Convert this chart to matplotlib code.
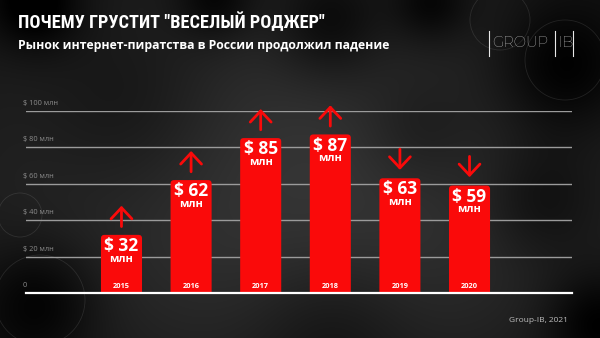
import numpy as np
import matplotlib.pyplot as plt
from matplotlib.patches import FancyBboxPatch, Circle
from matplotlib.transforms import offset_copy, blended_transform_factory

years = ['2015', '2016', '2017', '2018', '2019', '2020']
values = [32, 62, 85, 87, 63, 59]
trend = ['up', 'up', 'up', 'up', 'down', 'down']
grid_values = [20, 40, 60, 80, 100]
grid_labels = ['$ 20 млн', '$ 40 млн', '$ 60 млн', '$ 80 млн', '$ 100 млн']

title = 'ПОЧЕМУ ГРУСТИТ "ВЕСЕЛЫЙ РОДЖЕР"'
subtitle = 'Рынок интернет-пиратства в России продолжил падение'
source = 'Group-IB, 2021'

RED = '#fa0a0a'
FONT = 'Open Sans'
W, H = 600, 338

fig = plt.figure(figsize=(6, 3.38), dpi=100)

# dark backdrop with soft black blobs
bg = fig.add_axes([0, 0, 1, 1])
yy, xx = np.mgrid[0:H, 0:W]
img = np.full((H, W), 0.16)
img += 0.05 * np.exp(-(((xx - 330) / 260) ** 2 + ((yy - 200) / 160) ** 2))
for cx, cy, r, d in [(35, 5, 45, 0.12), (215, 0, 40, 0.10), (330, 25, 55, 0.10),
                     (430, 5, 40, 0.10), (560, 70, 70, 0.12), (540, 200, 60, 0.08),
                     (40, 300, 60, 0.10), (130, 110, 90, 0.06), (420, 130, 60, 0.06),
                     (330, 330, 80, 0.06), (595, 320, 50, 0.10)]:
    img -= d * np.exp(-(((xx - cx) / r) ** 2 + ((yy - cy) / r) ** 2))
vign = np.hypot((xx - 300) / 360, (yy - 169) / 230)
img -= 0.06 * vign ** 2
img = np.clip(img, 0, 1)
bg.imshow(np.dstack([img, img, img]), extent=(0, W, H, 0), aspect='auto')
for cx, cy, r in [(20, 215, 22), (40, 300, 45), (565, 60, 40), (500, 20, 30)]:
    bg.add_patch(Circle((cx, cy), r, fill=False, ec='#ffffff', lw=0.6, alpha=0.10))
bg.set_xlim(0, W)
bg.set_ylim(H, 0)
bg.axis('off')

# chart area
ax = fig.add_axes([25.7 / W, 1 - 293.3 / H, 546 / W, 182.6 / H])
ax.set_xlim(-1.376, 6.468)
ax.set_ylim(0, 100)
ax.axis('off')

ylab_tr = blended_transform_factory(ax.transAxes, ax.transData)
for v, lab in zip(grid_values, grid_labels):
    ax.axhline(v, color='#9b9b9b', lw=1.0, zorder=1)
    ax.annotate(lab, (0, v), xycoords=ylab_tr, xytext=(-2, 3), textcoords='offset points',
                ha='left', va='bottom', color='#8c8c8c', fontsize=5.3, family=FONT)
ax.annotate('0', (0, 0), xycoords=ylab_tr, xytext=(-2, 3), textcoords='offset points',
            ha='left', va='bottom', color='#8c8c8c', fontsize=5.3, family=FONT)
ax.axhline(0, color='white', lw=1.6, zorder=4, clip_on=False)

# bars with rounded tops (bottoms dip below 0 and get clipped)
fig.canvas.draw()
p0 = ax.transData.transform((0, 0))
p1 = ax.transData.transform((1, 1))
aspect = (p1[0] - p0[0]) / (p1[1] - p0[1])
bw = 0.59
for i, (yr, v, t) in enumerate(zip(years, values, trend)):
    bar = FancyBboxPatch((i - bw / 2, -5), bw, v + 5,
                         boxstyle='round,pad=0,rounding_size=0.05',
                         mutation_aspect=aspect, fc=RED, ec='none', zorder=3)
    ax.add_patch(bar)
    ax.annotate(f'$ {v}', (i, v), xytext=(0, -8), textcoords='offset points',
                ha='center', va='center', color='white', fontsize=12.5,
                fontweight='bold', family=FONT, zorder=5)
    ax.annotate('млн', (i, v), xytext=(0, -17.5), textcoords='offset points',
                ha='center', va='center', color='white', fontsize=8,
                fontweight='bold', family=FONT, zorder=5)
    ax.annotate(yr, (i, 0), xytext=(0, 4.8), textcoords='offset points',
                ha='center', va='center', color='white', fontsize=5.3,
                fontweight='bold', family=FONT, zorder=5)
    # trend arrow above each bar
    if t == 'up':
        tip = offset_copy(ax.transData, fig=fig, x=0, y=21, units='points')
        start = (0, -15)
    else:
        tip = offset_copy(ax.transData, fig=fig, x=0, y=6, units='points')
        start = (0, 15)
    ax.annotate('', (i, v), xycoords=tip, xytext=start, textcoords='offset points',
                arrowprops=dict(arrowstyle='->,head_length=8,head_width=7.5',
                                mutation_scale=1, color=RED, lw=2.0,
                                shrinkA=0, shrinkB=0))

# headings
fig.text(18 / W, 1 - 22 / H, title, color='white', fontsize=13.2, fontweight='bold',
         family='Roboto Condensed', ha='left', va='center')
fig.text(18 / W, 1 - 45.5 / H, subtitle, color='white', fontsize=8.8, fontweight='bold',
         family=FONT, ha='left', va='center')

# logo
fig.text(492 / W, 1 - 43 / H, 'GROUP', color='#e8e8e8', fontsize=10.5, fontweight='light',
         family='Montserrat', ha='left', va='center')
fig.text(558 / W, 1 - 43 / H, 'IB', color='#e8e8e8', fontsize=10.5, fontweight='light',
         family='Montserrat', ha='left', va='center')
for x in (489, 555, 573):
    bg.plot([x, x], [31, 56], color='#e8e8e8', lw=0.8)

fig.text(568 / W, 1 - 320 / H, source, color='#bdbdbd', fontsize=6,
         family=FONT, ha='right', va='center')

fig.savefig('out.png', dpi=100)
